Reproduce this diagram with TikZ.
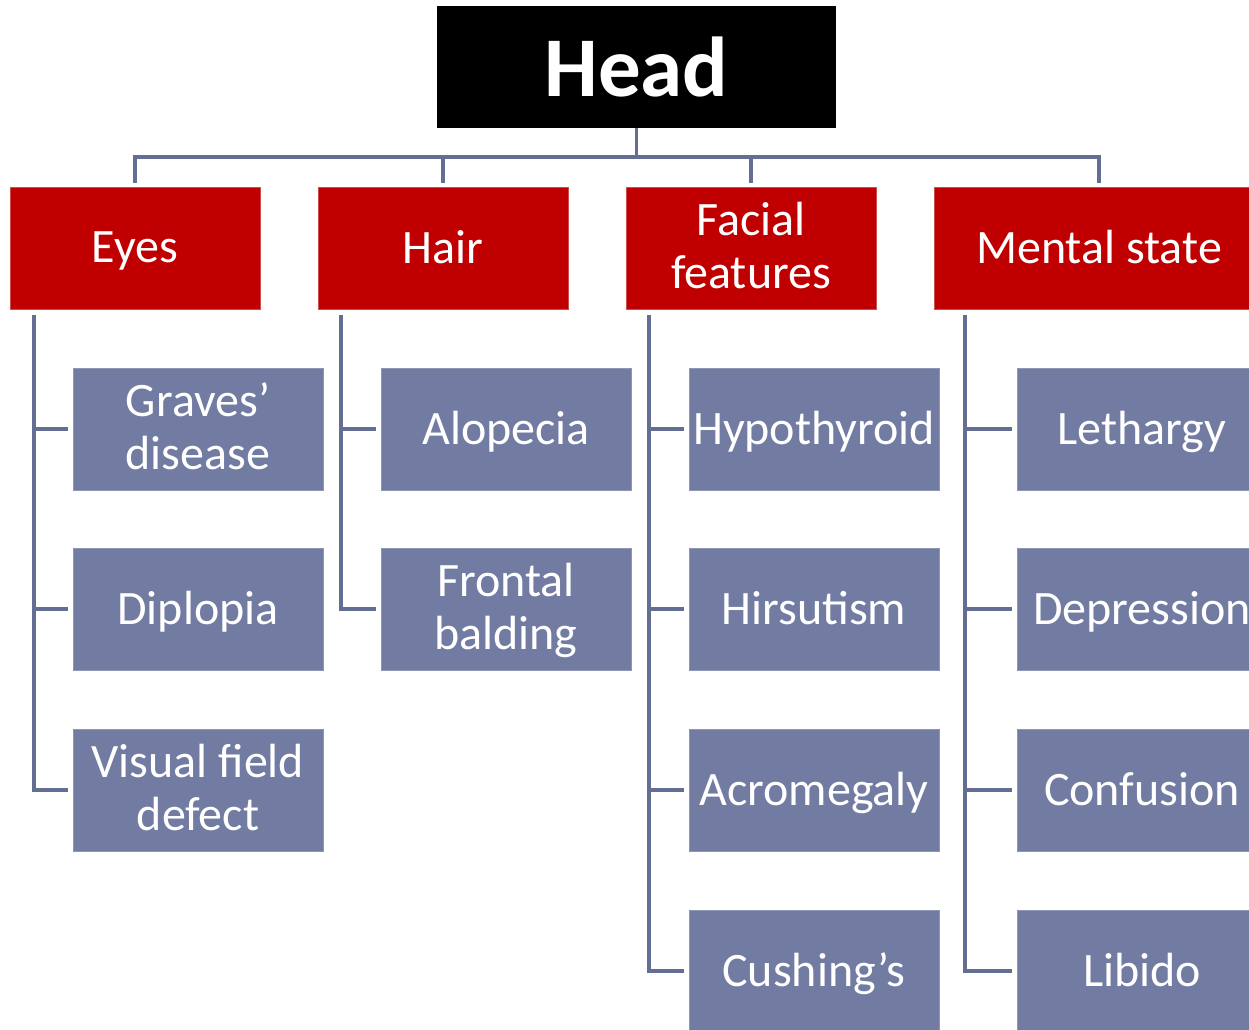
\documentclass[tikz,border=0pt]{standalone}
\usepackage{fontspec}
\setmainfont{Carlito}
\definecolor{boxred}{RGB}{192,0,0}
\definecolor{boxblue}{RGB}{114,124,163}
\definecolor{linecol}{RGB}{100,110,146}
\newcommand{\oneline}[1]{\raisebox{-3pt}[\height][\depth]{#1\vphantom{Hy}}}
\newcommand{\twoline}[2]{\raisebox{-3pt}[\height][\depth]{\begin{tabular}{@{}c@{}}#1\\#2\end{tabular}}}
\begin{document}
\begin{tikzpicture}[x=1pt,y=-1pt,
  redbox/.style={rectangle, fill=boxred, draw=boxred!70!white, line width=1pt, minimum width=250pt, minimum height=122pt, text=white, inner sep=0pt, font=\fontsize{48}{53}\selectfont},
  bluebox/.style={rectangle, fill=boxblue, draw=boxblue!80!white, line width=1pt, minimum width=250pt, minimum height=122pt, text=white, inner sep=0pt, font=\fontsize{48}{53}\selectfont},
  conn/.style={draw=linecol, line width=3.5pt}]
\useasboundingbox (0,0) rectangle (1249,1029);
\clip (0,0) rectangle (1249,1029);
% head
\node[rectangle, fill=black, minimum width=399pt, minimum height=122pt, text=white, inner sep=0pt, font=\fontsize{85}{90}\selectfont\bfseries] (head) at (636.5,67) {Head};
% categories
\node[redbox] (eyes) at (135,248) {\oneline{Eyes}};
\node[redbox] (hair) at (443,248) {\oneline{Hair}};
\node[redbox] (face) at (751,248) {\twoline{Facial}{features}};
\node[redbox, minimum width=330pt] (ms) at (1099,248) {\oneline{Mental state}};
% children
\node[bluebox] (e1) at (198,429) {\twoline{Graves’}{disease}};
\node[bluebox] (e2) at (198,609) {\oneline{Diplopia}};
\node[bluebox] (e3) at (198,790) {\twoline{Visual field}{defect}};
\node[bluebox] (h1) at (506,429) {\oneline{Alopecia}};
\node[bluebox] (h2) at (506,609) {\twoline{Frontal}{balding}};
\node[bluebox] (f1) at (814,429) {\oneline{Hypothyroid}};
\node[bluebox] (f2) at (814,609) {\oneline{Hirsutism}};
\node[bluebox] (f3) at (814,790) {\oneline{Acromegaly}};
\node[bluebox] (f4) at (814,971) {\oneline{Cushing’s}};
\node[bluebox] (m1) at (1142,429) {\oneline{Lethargy}};
\node[bluebox] (m2) at (1142,609) {\oneline{Depression}};
\node[bluebox] (m3) at (1142,790) {\oneline{Confusion}};
\node[bluebox] (m4) at (1142,971) {\oneline{Libido}};
% top connectors
\coordinate (bus) at (636.5,157);
\draw[conn] (head.south) -- (bus);
\draw[conn, shorten <=4pt, shorten >=4pt] (eyes.north) |- (bus) -| (ms.north);
\draw[conn, shorten <=4pt] (hair.north) -- (hair.north |- bus);
\draw[conn, shorten <=4pt] (face.north) -- (face.north |- bus);
% eyes children
\coordinate (et) at (34,315);
\draw[conn] (et) |- ([xshift=-5pt]e3.west);
\draw[conn] (et |- e1.west) -- ([xshift=-5pt]e1.west);
\draw[conn] (et |- e2.west) -- ([xshift=-5pt]e2.west);
% hair children
\coordinate (ht) at (341,315);
\draw[conn] (ht) |- ([xshift=-5pt]h2.west);
\draw[conn] (ht |- h1.west) -- ([xshift=-5pt]h1.west);
% facial children
\coordinate (ft) at (649,315);
\draw[conn] (ft) |- ([xshift=-5pt]f4.west);
\draw[conn] (ft |- f1.west) -- ([xshift=-5pt]f1.west);
\draw[conn] (ft |- f2.west) -- ([xshift=-5pt]f2.west);
\draw[conn] (ft |- f3.west) -- ([xshift=-5pt]f3.west);
% mental children
\coordinate (mt) at (965,315);
\draw[conn] (mt) |- ([xshift=-5pt]m4.west);
\draw[conn] (mt |- m1.west) -- ([xshift=-5pt]m1.west);
\draw[conn] (mt |- m2.west) -- ([xshift=-5pt]m2.west);
\draw[conn] (mt |- m3.west) -- ([xshift=-5pt]m3.west);
\end{tikzpicture}
\end{document}
